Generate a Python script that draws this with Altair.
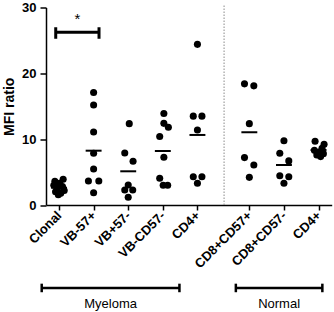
import altair as alt
import pandas as pd

# ---- data ----
group_labels = ["Clonal", "VB-57+", "VB+57-", "VB-CD57-", "CD4+", "CD8+CD57+", "CD8+CD57-", "CD4+"]
group_pos = [0, 1, 2, 3, 4, 5.5, 6.5, 7.5]

values = [
    [3.9, 3.6, 3.3, 3.0, 2.8, 2.5, 2.2, 2.0, 1.8, 1.55],
    [17.1, 15.2, 11.1, 7.86, 5.47, 3.65, 3.65, 1.87],
    [12.36, 7.9, 6.64, 3.04, 2.28, 2.28, 1.17],
    [13.9, 12.4, 11.8, 10.4, 7.25, 4.05, 3.0, 3.0],
    [24.4, 13.5, 13.5, 11.4, 4.3, 4.3, 3.3],
    [18.4, 18.1, 12.36, 7.2, 6.08, 4.2],
    [9.77, 7.85, 6.7, 4.45, 4.3, 3.3],
    [9.68, 9.22, 8.6, 8.3, 8.1, 7.8, 7.6, 7.35],
]
jitter = [
    [0.12, -0.12, 0.02, -0.15, 0.1, -0.05, 0.15, -0.1, 0.05, -0.02],
    [0, 0, 0, 0, 0, -0.15, 0.15, 0],
    [0.03, -0.1, 0.14, 0.0, -0.1, 0.13, 0.0],
    [0.03, 0.03, 0.16, -0.09, 0.03, -0.09, 0.01, 0.14],
    [0, -0.12, 0.13, 0, -0.12, 0.13, 0],
    [-0.14, 0.13, 0, -0.14, 0.13, 0],
    [0, -0.12, 0.14, -0.12, 0.14, 0],
    [-0.1, 0.16, 0.1, -0.12, 0.05, 0.14, -0.05, 0.06],
]
means = [2.63, 8.25, 5.12, 8.2, 10.64, 11.05, 6.08, 8.36]

separator_x = 4.77
sig_x = [-0.095, 1.156]
sig_y = 26.25
sig_label = "*"
group_names = ["Myeloma", "Normal"]
group_span = [[-0.5, 3.48], [5.11, 7.61]]
group_bar_y = -12.6
group_text_y = -14.97

# ---- tables ----
pts = []
for gi, (vals, jit) in enumerate(zip(values, jitter)):
    for v, j in zip(vals, jit):
        pts.append({"x": group_pos[gi] + j, "y": v})
pts = pd.DataFrame(pts)

mean_df = pd.DataFrame({"x": [p - 0.23 for p in group_pos],
                        "x2": [p + 0.23 for p in group_pos],
                        "y": means})

sig_df = pd.DataFrame([
    {"x": sig_x[0], "x2": sig_x[1], "y": sig_y, "y2": sig_y},
    {"x": sig_x[0], "x2": sig_x[0], "y": sig_y - 1.0, "y2": sig_y + 0.75},
    {"x": sig_x[1], "x2": sig_x[1], "y": sig_y - 1.0, "y2": sig_y + 0.75},
])
star_df = pd.DataFrame({"x": [(sig_x[0] + sig_x[1]) / 2], "y": [sig_y + 2.0], "t": [sig_label]})

seg = []
for a, b in group_span:
    seg.append({"x": a, "x2": b, "y": group_bar_y, "y2": group_bar_y})
    seg.append({"x": a, "x2": a, "y": group_bar_y - 0.65, "y2": group_bar_y + 0.65})
    seg.append({"x": b, "x2": b, "y": group_bar_y - 0.65, "y2": group_bar_y + 0.65})
grp_df = pd.DataFrame(seg)
grp_txt = pd.DataFrame({"x": [(a + b) / 2 for a, b in group_span],
                        "y": [group_text_y] * 2, "t": group_names})
sep_df = pd.DataFrame({"x": [separator_x], "y": [0], "y2": [30.4]})

# ---- scales/axes ----
label_expr = ""
for p, l in zip(group_pos, group_labels):
    label_expr += f"datum.value == {p} ? '{l}' : "
label_expr += "''"

xscale = alt.Scale(domain=[-0.376, 7.88], nice=False, zero=False)
yscale = alt.Scale(domain=[0, 30], nice=False, zero=True)
xaxis = alt.Axis(values=group_pos, labelExpr=label_expr, labelAngle=-45,
                 labelAlign="right", labelBaseline="middle", labelFontWeight="bold",
                 labelFontSize=13, labelFont="Liberation Sans", labelColor="black",
                 tickSize=5, tickWidth=1.5, tickColor="black", domainWidth=1.5,
                 domainColor="black", grid=False, labelPadding=3, title="",
                 labelOverlap=False, labelFlush=False, labelBound=False)
yaxis = alt.Axis(values=[0, 10, 20, 30], labelFontWeight="bold", labelFontSize=13,
                 labelFont="Liberation Sans", labelColor="black",
                 tickSize=6, tickWidth=1.5, tickColor="black", domainWidth=1.5,
                 domainColor="black", grid=False, labelPadding=4,
                 title="MFI ratio", titleFont="Liberation Sans", titleFontSize=14,
                 titleFontWeight="bold", titleColor="black", titleX=-36.5,
                 titleY=98.75, titleBaseline="middle", titleAngle=-90)


def X(f):
    return alt.X(f, type="quantitative", scale=xscale, axis=xaxis)


def Y(f):
    return alt.Y(f, type="quantitative", scale=yscale, axis=yaxis)


points = alt.Chart(pts).mark_circle(size=50, color="black", opacity=1).encode(x=X("x"), y=Y("y"))
mean_lines = alt.Chart(mean_df).mark_rule(color="black", strokeWidth=2).encode(
    x=X("x"), x2="x2", y=Y("y"))
sep = alt.Chart(sep_df).mark_rule(color="#8a8a8a", strokeWidth=1, strokeDash=[1.5, 1.5]).encode(
    x=X("x"), y=Y("y"), y2="y2")
sig = alt.Chart(sig_df).mark_rule(color="black", strokeWidth=3).encode(
    x=X("x"), x2="x2", y=Y("y"), y2="y2")
star = alt.Chart(star_df).mark_text(fontSize=15, font="Liberation Sans", color="black",
                                    baseline="middle").encode(x=X("x"), y=Y("y"), text="t")
grp = alt.Chart(grp_df).mark_rule(color="black", strokeWidth=2.5).encode(
    x=X("x"), x2="x2", y=Y("y"), y2="y2")
grp_t = alt.Chart(grp_txt).mark_text(fontSize=13, font="Liberation Sans", color="black",
                                     baseline="middle").encode(x=X("x"), y=Y("y"), text="t")

chart = alt.layer(sep, points, mean_lines, sig, star, grp, grp_t).properties(
    width=285.7, height=197.5,
    autosize=alt.AutoSizeParams(type="none"),
    padding={"left": 46, "top": 7.5, "right": 2.3, "bottom": 107},
    background="white",
).configure_view(strokeWidth=0)

chart.save("out.html", embed_options={"renderer": "svg", "actions": False})
